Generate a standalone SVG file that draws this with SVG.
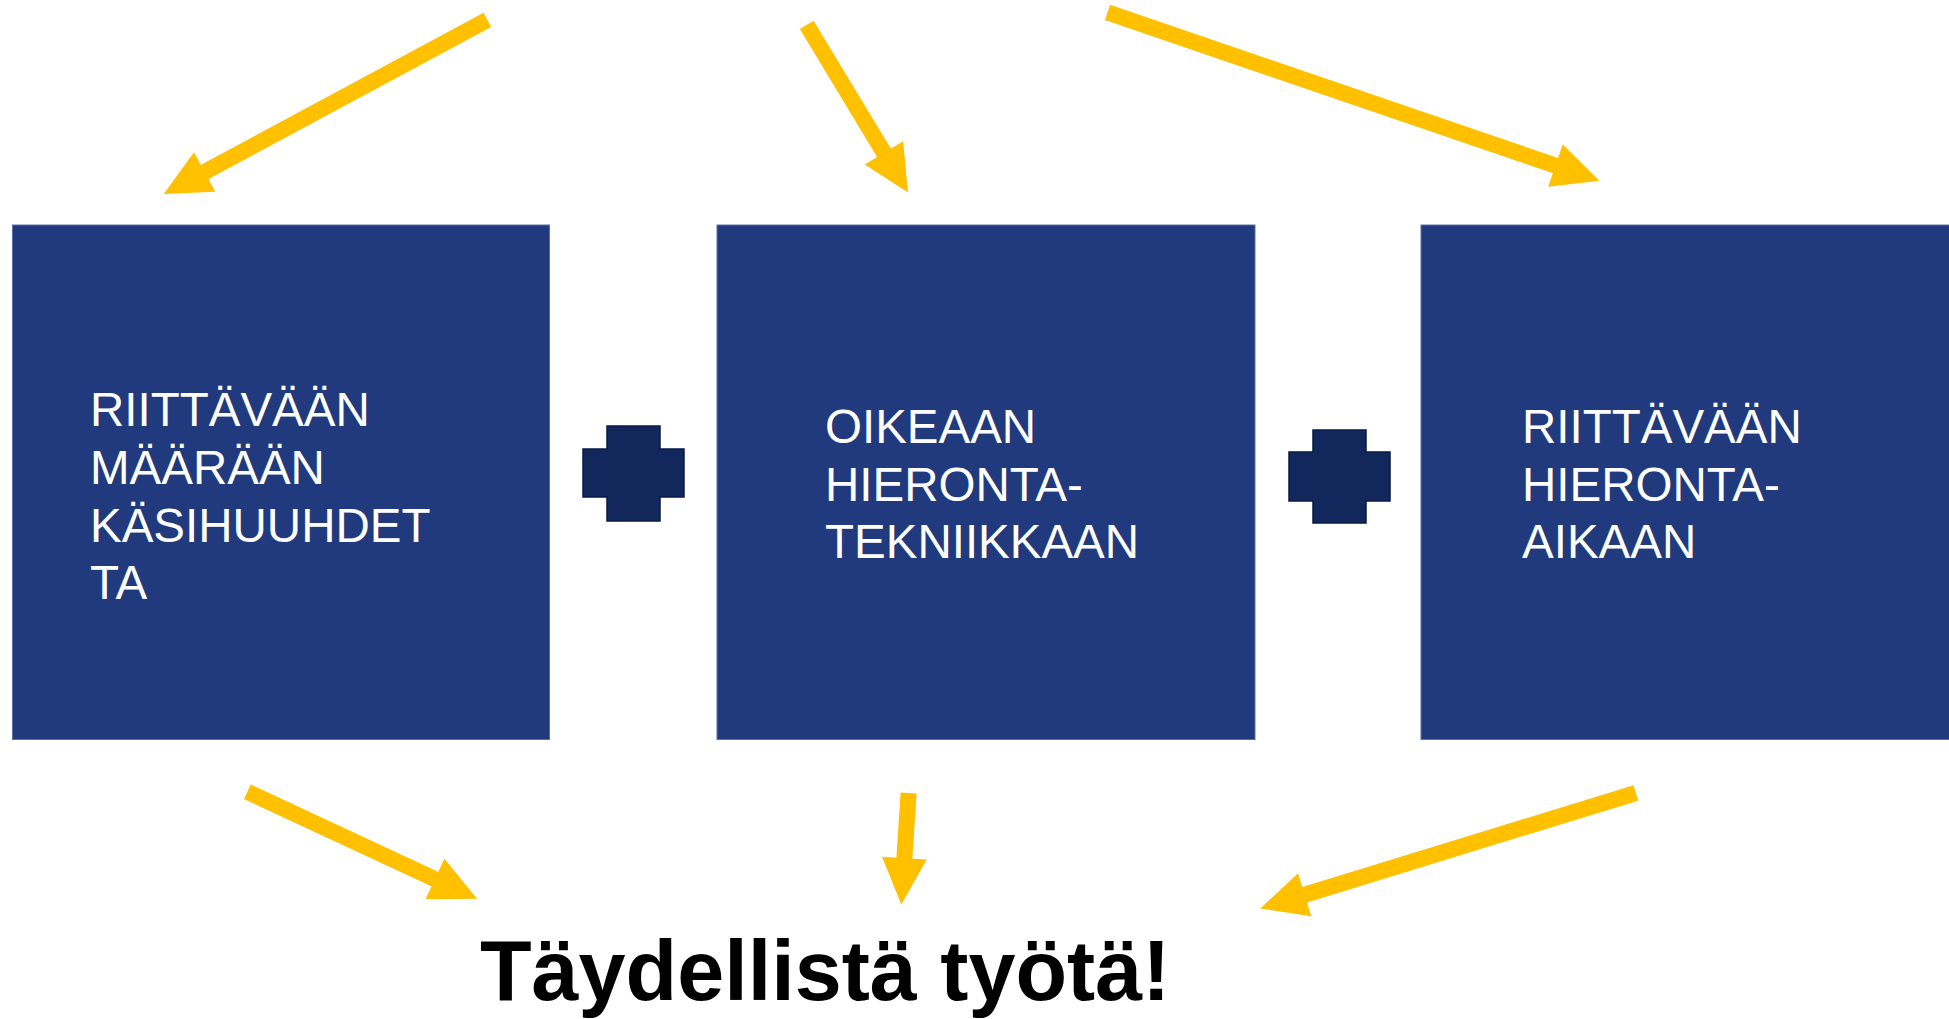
<svg xmlns="http://www.w3.org/2000/svg" width="1949" height="1019" viewBox="0 0 1949 1019">
<style>
.box{fill:#203A7D;stroke:#5a6fa3;stroke-width:1}
.cross{fill:#12275C;stroke:#0a1a45;stroke-width:1.5}
.lbl{font-family:"Liberation Sans",Arial,sans-serif;font-size:47.5px;fill:#FFFFFF}
.title{font-family:"Liberation Sans",Arial,sans-serif;font-size:84.5px;font-weight:bold;fill:#000000}
.arr{stroke:#FFC000;stroke-width:16;fill:none;marker-end:url(#head)}
</style>
<defs>
<marker id="head" markerUnits="strokeWidth" markerWidth="3" markerHeight="2.8" refX="0.05" refY="1.4" orient="auto" overflow="visible">
<path d="M0,0 L2.9,1.4 L0,2.8 Z" fill="#FFC000"/>
</marker>
</defs>
<rect width="1949" height="1019" fill="#FFFFFF"/>
<g id="node1">
<rect class="box" x="12.5" y="225" width="537" height="514.5"/>
<text class="lbl"><tspan x="90" y="426">RIITTÄVÄÄN</tspan><tspan x="90" y="483.5">MÄÄRÄÄN</tspan><tspan x="90" y="542">KÄSIHUUHDET</tspan><tspan x="90" y="599">TA</tspan></text>
</g>
<g id="node2">
<rect class="box" x="717" y="225" width="538" height="514.5"/>
<text class="lbl"><tspan x="825" y="442.5">OIKEAAN</tspan><tspan x="825" y="501">HIERONTA-</tspan><tspan x="825" y="558">TEKNIIKKAAN</tspan></text>
</g>
<g id="node3">
<rect class="box" x="1421" y="225" width="540" height="514.5"/>
<text class="lbl"><tspan x="1522" y="442.5">RIITTÄVÄÄN</tspan><tspan x="1522" y="501">HIERONTA-</tspan><tspan x="1522" y="558">AIKAAN</tspan></text>
</g>
<g id="plus1"><path class="cross" d="M607,426 H660 V449 H684 V497 H660 V521 H607 V497 H583 V449 H607 Z"/></g>
<g id="plus2"><path class="cross" d="M1313,430 H1366 V452 H1390 V501 H1366 V523 H1313 V501 H1289 V452 H1313 Z"/></g>
<g id="result">
<text class="title" x="480" y="1000">Täydellistä työtä!</text>
</g>
<g id="connectors">
<line class="arr" x1="487.3" y1="19.9" x2="203.9" y2="172.4"/>
<line class="arr" x1="806.7" y1="24.9" x2="884.4" y2="153.5"/>
<line class="arr" x1="1107.5" y1="12.4" x2="1556.2" y2="165.9"/>
<line class="arr" x1="247.4" y1="791.8" x2="435.7" y2="879.4"/>
<line class="arr" x1="908.6" y1="793" x2="904.3" y2="858.9"/>
<line class="arr" x1="1635.8" y1="793" x2="1303.9" y2="895"/>
</g>
</svg>
